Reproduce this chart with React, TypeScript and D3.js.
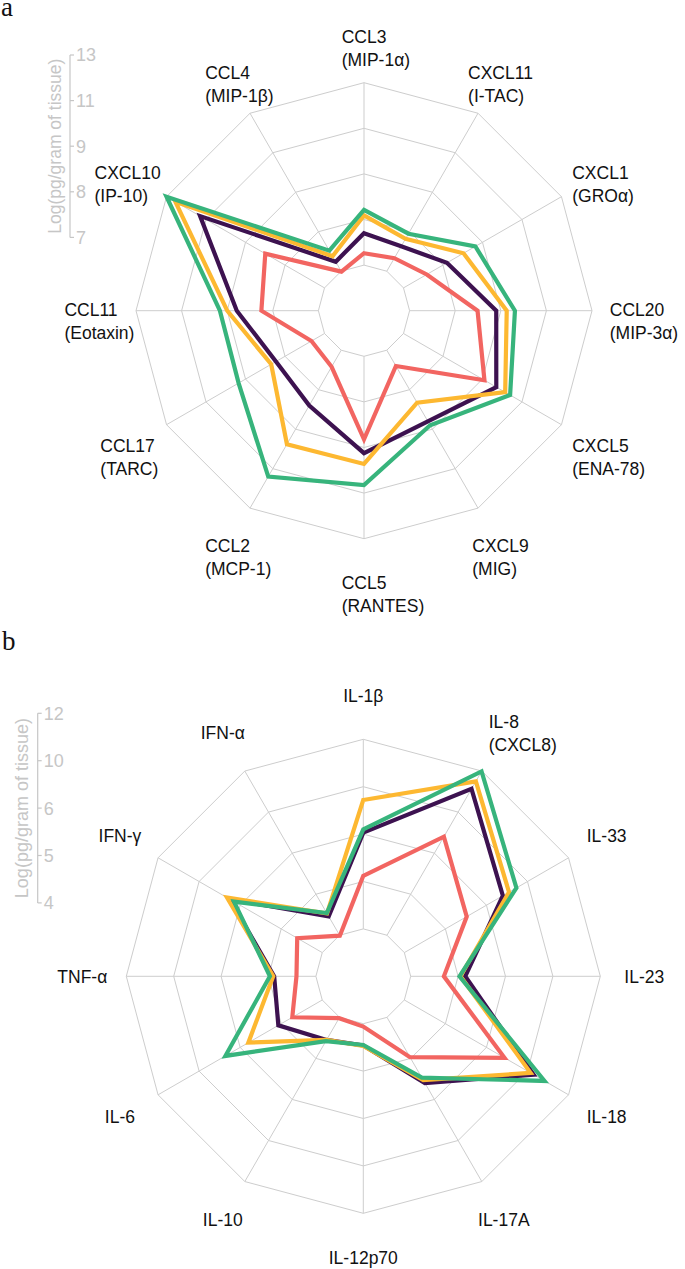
import React from "react";
import * as d3 from "d3";

// ---------- Panel a : chemokines ----------
const chemokineLabels: string[][] = [
  ["CCL3", "(MIP-1α)"],
  ["CXCL11", "(I-TAC)"],
  ["CXCL1", "(GROα)"],
  ["CCL20", "(MIP-3α)"],
  ["CXCL5", "(ENA-78)"],
  ["CXCL9", "(MIG)"],
  ["CCL5", "(RANTES)"],
  ["CCL2", "(MCP-1)"],
  ["CCL17", "(TARC)"],
  ["CCL11", "(Eotaxin)"],
  ["CXCL10", "(IP-10)"],
  ["CCL4", "(MIP-1β)"],
];
const chemokineTicks = [7, 8, 9, 11, 13];
const chemokineRed = [7.26, 7.33, 7.59, 8.49, 9.1, 7.4, 8.82, 7.42, 7.33, 8.25, 8.5, 6.99];
const chemokinePurple = [7.7, 7.63, 8.1, 8.9, 9.7, 8.8, 9.25, 8.4, 8.23, 8.79, 11.3, 7.24];
const chemokineOrange = [8.09, 7.82, 8.52, 9.26, 10.15, 8.33, 9.72, 9.76, 8.35, 9.0, 12.55, 7.38];
const chemokineGreen = [8.21, 7.95, 8.82, 9.62, 10.4, 8.9, 10.65, 11.4, 9.35, 9.32, 13, 7.52];

// ---------- Panel b : cytokines ----------
const cytokineLabels: string[][] = [
  ["IL-1β"],
  ["IL-8", "(CXCL8)"],
  ["IL-33"],
  ["IL-23"],
  ["IL-18"],
  ["IL-17A"],
  ["IL-12p70"],
  ["IL-10"],
  ["IL-6"],
  ["TNF-α"],
  ["IFN-γ"],
  ["IFN-α"],
];
const cytokineTicks = [4, 5, 6, 10, 12];
const cytokineRed = [5.12, 7.6, 5.52, 4.7, 7.76, 4.97, 4.06, 4.02, 4.73, 4.41, 4.61, 3.99];
const cytokinePurple = [6.12, 11.13, 7.6, 5.15, 10.3, 5.6, 4.46, 4.55, 5.07, 4.88, 7.0, 4.46];
const cytokineOrange = [8.88, 11.5, 8.2, 5.05, 10.15, 5.53, 4.47, 4.55, 5.8, 4.9, 7.28, 4.53];
const cytokineGreen = [6.4, 11.98, 8.92, 5.03, 10.83, 5.47, 4.45, 4.58, 7.44, 4.97, 6.6, 4.54];

const axisTitle = "Log(pg/gram of tissue)";

// ---------- styles ----------
const seriesColors = ["#F26561", "#3D1250", "#FDB831", "#37B47C"];
const gridColor = "#cdcdcd";
const axisGray = "#c6c6c6";
const sansFont = "Arial, 'Liberation Sans', Helvetica, sans-serif";
const serifFont = "'Times New Roman', 'Liberation Serif', serif";
const labelSize = 17.5;
const lineHeight = 23;

let ctx: CanvasRenderingContext2D | null = null;
function measure(s: string, size: number): number {
  if (!ctx) ctx = document.createElement("canvas").getContext("2d");
  if (!ctx) return s.length * size * 0.55;
  ctx.font = `${size}px Arial, 'Liberation Sans', sans-serif`;
  return ctx.measureText(s).width;
}

interface Layout {
  cx: number;
  cy: number;
  R: number;
  axisX: number;
  axisTop: number;
  titleX: number;
  titleSize: number;
  labelR: number;
  labelDy: number;
}

function Radar({
  labels,
  ticks,
  series,
  layout,
}: {
  labels: string[][];
  ticks: number[];
  series: number[][];
  layout: Layout;
}) {
  const { cx, cy, R, axisX, axisTop, titleX, titleSize, labelR, labelDy } = layout;
  const n = labels.length;
  const step = (2 * Math.PI) / n;
  const r = d3
    .scaleLinear()
    .domain(ticks)
    .range(ticks.map((_, i) => (R * (i + 1)) / ticks.length));

  const radial = d3
    .lineRadial<number>()
    .angle((_, i) => i * step)
    .radius((v) => r(v))
    .curve(d3.curveLinearClosed);

  const r0 = r(ticks[0]);
  const r1 = r(ticks[ticks.length - 1]);
  const angles = d3.range(n).map((i) => i * step);

  const ay = (v: number) => axisTop + (r1 - r(v));
  const axisMid = (ay(ticks[0]) + ay(ticks[ticks.length - 1])) / 2;

  return (
    <g>
      <g transform={`translate(${cx},${cy})`}>
        {ticks.map((t) => (
          <path
            key={"ring" + t}
            d={radial(angles.map(() => t)) || ""}
            fill="none"
            stroke={gridColor}
            strokeWidth={1}
          />
        ))}
        {angles.map((a, i) => (
          <line
            key={"spoke" + i}
            x1={r0 * Math.sin(a)}
            y1={-r0 * Math.cos(a)}
            x2={r1 * Math.sin(a)}
            y2={-r1 * Math.cos(a)}
            stroke={gridColor}
            strokeWidth={1}
          />
        ))}
        {series.map((s, k) => (
          <path
            key={"s" + k}
            d={radial(s) || ""}
            fill="none"
            stroke={seriesColors[k]}
            strokeWidth={4.2}
            strokeLinejoin="miter"
            strokeMiterlimit={10}
          />
        ))}
      </g>
      {labels.map((lines, i) => {
        const a = angles[i];
        const px = cx + labelR * Math.sin(a);
        const py = cy - labelR * Math.cos(a) + labelDy;
        const w0 = measure(lines[0], labelSize);
        const x = px - w0 / 2;
        const y0 = py - ((lines.length - 1) * lineHeight) / 2 + labelSize * 0.36;
        return (
          <text key={"lab" + i} fontFamily={sansFont} fontSize={labelSize} fill="#111">
            {lines.map((ln, j) => (
              <tspan key={j} x={x} y={y0 + j * lineHeight}>
                {ln}
              </tspan>
            ))}
          </text>
        );
      })}
      <g>
        <line
          x1={axisX}
          x2={axisX}
          y1={ay(ticks[ticks.length - 1])}
          y2={ay(ticks[0])}
          stroke={axisGray}
          strokeWidth={1.2}
        />
        {ticks.map((t) => (
          <g key={"tk" + t}>
            <line
              x1={axisX}
              x2={axisX + 4}
              y1={ay(t)}
              y2={ay(t)}
              stroke={axisGray}
              strokeWidth={1.2}
            />
            <text
              x={axisX + 6}
              y={ay(t)}
              dy="0.36em"
              fontFamily={sansFont}
              fontSize={18}
              fill={axisGray}
            >
              {t}
            </text>
          </g>
        ))}
        <text
          transform={`translate(${titleX},${axisMid}) rotate(-90)`}
          textAnchor="middle"
          fontFamily={sansFont}
          fontSize={titleSize}
          fill={axisGray}
        >
          {axisTitle}
        </text>
      </g>
    </g>
  );
}

const layoutA: Layout = {
  cx: 364,
  cy: 310.7,
  R: 228,
  axisX: 70,
  axisTop: 55,
  titleX: 61,
  titleSize: 17.5,
  labelR: 273,
  labelDy: 10,
};

const layoutB: Layout = {
  cx: 363.3,
  cy: 976.3,
  R: 237,
  axisX: 37.7,
  axisTop: 713.3,
  titleX: 28,
  titleSize: 18,
  labelR: 281,
  labelDy: 0,
};

export default function App() {
  return (
    <svg
      width={685}
      height={1269}
      viewBox="0 0 685 1269"
      style={{ position: "absolute", left: 0, top: 0, display: "block", background: "#fff" }}
    >
      <rect x={0} y={0} width={685} height={1269} fill="#fff" />
      <text x={1} y={16} fontFamily={serifFont} fontSize={27} fill="#111">
        a
      </text>
      <text x={2} y={650} fontFamily={serifFont} fontSize={27} fill="#111">
        b
      </text>
      <Radar
        labels={chemokineLabels}
        ticks={chemokineTicks}
        series={[chemokineRed, chemokinePurple, chemokineOrange, chemokineGreen]}
        layout={layoutA}
      />
      <Radar
        labels={cytokineLabels}
        ticks={cytokineTicks}
        series={[cytokineRed, cytokinePurple, cytokineOrange, cytokineGreen]}
        layout={layoutB}
      />
    </svg>
  );
}
